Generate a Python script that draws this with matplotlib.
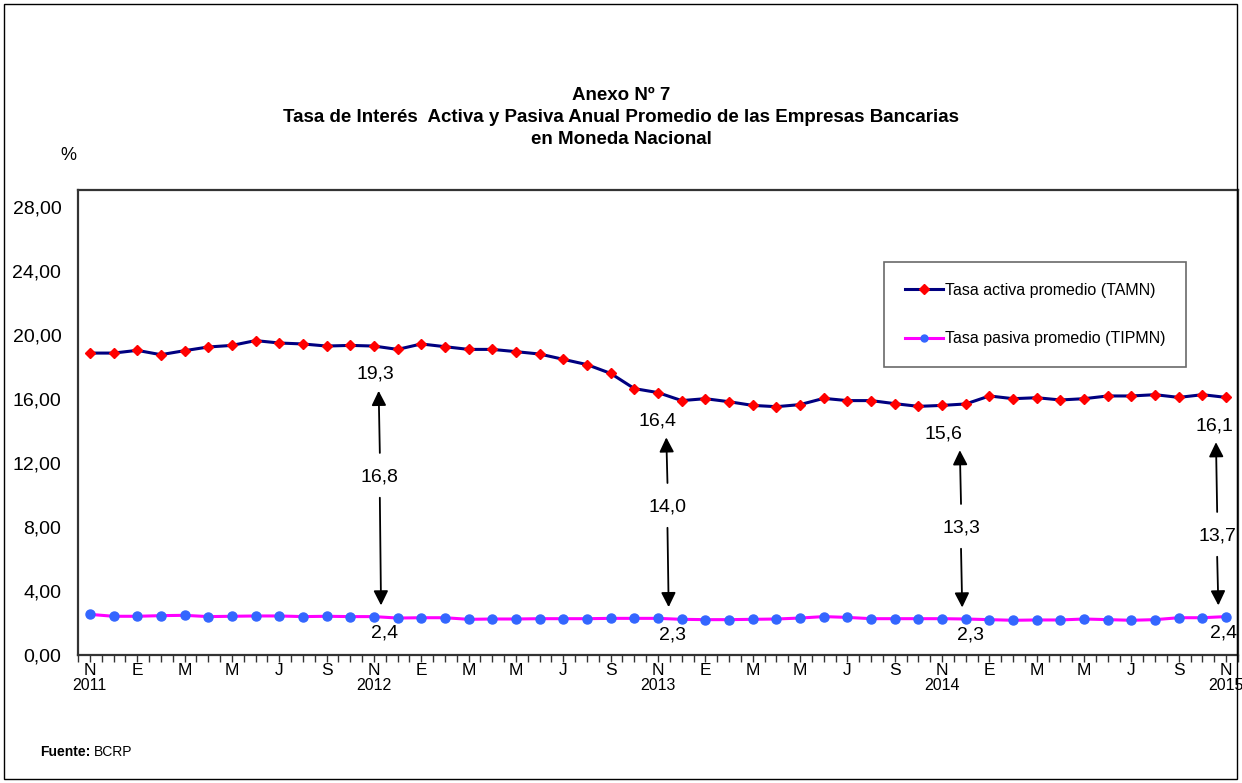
import matplotlib
matplotlib.use("Agg")
import matplotlib.pyplot as plt
from matplotlib.patches import Rectangle
from matplotlib import font_manager

# ---------------- data ----------------
month_letters = ["N", "E", "M", "M", "J", "S"]
year_labels = ["2011", "2012", "2013", "2014", "2015"]

tamn = [18.87, 18.87, 19.04, 18.77, 19.02, 19.25, 19.35, 19.65, 19.50, 19.44,
        19.31, 19.35, 19.31, 19.10, 19.44, 19.27, 19.10, 19.10, 18.96, 18.81,
        18.48, 18.15, 17.60, 16.65, 16.40, 15.90, 16.02, 15.83, 15.60, 15.52,
        15.65, 16.04, 15.90, 15.90, 15.71, 15.54, 15.60, 15.69, 16.19, 16.02,
        16.08, 15.94, 16.02, 16.19, 16.19, 16.27, 16.10, 16.27, 16.10]

tipmn = [2.54, 2.42, 2.42, 2.46, 2.48, 2.40, 2.42, 2.44, 2.44, 2.40,
         2.42, 2.40, 2.40, 2.31, 2.33, 2.33, 2.23, 2.25, 2.25, 2.27,
         2.27, 2.27, 2.29, 2.29, 2.29, 2.23, 2.21, 2.21, 2.23, 2.25,
         2.31, 2.40, 2.35, 2.27, 2.27, 2.27, 2.27, 2.25, 2.21, 2.17,
         2.19, 2.19, 2.25, 2.21, 2.17, 2.21, 2.33, 2.33, 2.40]

# highlighted months (November of each year) and their labels
hl_index = [12, 24, 36, 48]
hl_top = ["19,3", "16,4", "15,6", "16,1"]
hl_spread = ["16,8", "14,0", "13,3", "13,7"]
hl_bottom = ["2,4", "2,3", "2,3", "2,4"]

# ---------------- fonts ----------------
names = {f.name for f in font_manager.fontManager.ttflist}
FAM = ["Liberation Sans Narrow", "Liberation Sans", "DejaVu Sans"]
FAM = [f for f in FAM if f in names] or ["DejaVu Sans"]
plt.rcParams["font.family"] = FAM

W, H = 1242, 783
fig = plt.figure(figsize=(W / 100, H / 100), dpi=100)

def fx(px):
    return px / W

def fy(py):
    return 1 - py / H

# outer border
fig.patches.append(Rectangle((fx(4), fy(779)), fx(1237) - fx(4), fy(4) - fy(779),
                             transform=fig.transFigure, fill=False,
                             edgecolor="black", lw=1.0))

ax_left, ax_right, ax_top, ax_bottom = 78, 1238, 190, 655
ax = fig.add_axes([fx(ax_left), fy(ax_bottom), fx(ax_right) - fx(ax_left),
                   fy(ax_top) - fy(ax_bottom)])

n = len(tamn)
x = list(range(n))

ax.plot(x, tamn, color="#000080", lw=2.2, marker="D", markersize=5.5,
        markerfacecolor="#FF0000", markeredgecolor="#FF0000",
        label="Tasa activa promedio (TAMN)", zorder=3)
ax.plot(x, tipmn, color="#FF00FF", lw=2.2, marker="o", markersize=6.5,
        markerfacecolor="#3366FF", markeredgecolor="#3366FF",
        label="Tasa pasiva promedio (TIPMN)", zorder=3)

ax.set_xlim(-0.5, n - 0.5)
ax.set_ylim(0, (ax_bottom - ax_top) / 16.0)

yt = list(range(0, 29, 4))
ax.set_yticks(yt)
ax.set_yticklabels([f"{v:.2f}".replace(".", ",") for v in yt], fontsize=14)
ax.tick_params(axis="y", length=0, pad=12)

# x ticks
major = list(range(0, n, 2))
ax.set_xticks(major)
ax.set_xticklabels([month_letters[(i // 2) % 6] for i in major], fontsize=12.5)
ax.set_xticks([i - 0.5 for i in range(n + 1)] + [i for i in range(n)], minor=True)
ax.tick_params(axis="x", which="both", length=5, width=1, direction="out",
               pad=1, color="#333333")

for k, yl in enumerate(year_labels):
    ax.text(k * 12, -0.05, yl, transform=ax.get_xaxis_transform(),
            ha="center", va="top", fontsize=11.5)

for s in ax.spines.values():
    s.set_color("#333333")
    s.set_linewidth(1.6)

# annotations
spread_y = [11.13, 9.25, 7.94, 7.44]
arrow_dx = [0.25, 0.4, 0.8, -0.38]
top_dx = [0.05, 0.0, 0.05, -0.5]
bot_dx = [0.45, 0.6, 1.2, -0.1]
for k, i in enumerate(hl_index):
    ya, yp = tamn[i], tipmn[i]
    xa = i + arrow_dx[k]
    ax.text(i + top_dx[k], ya - 1.77, hl_top[k], ha="center", va="center",
            fontsize=14)
    ax.text(xa, spread_y[k], hl_spread[k], ha="center", va="center",
            fontsize=14)
    ax.text(i + bot_dx[k], yp - 1.05, hl_bottom[k], ha="center", va="center",
            fontsize=14)
    ax.annotate("", xy=(xa - 0.05, ya - 2.8), xytext=(xa, spread_y[k] + 1.5),
                arrowprops=dict(arrowstyle="-|>", color="black", lw=1.3,
                                mutation_scale=22, shrinkA=0, shrinkB=0))
    ax.annotate("", xy=(xa + 0.05, yp + 0.7), xytext=(xa, spread_y[k] - 1.3),
                arrowprops=dict(arrowstyle="-|>", color="black", lw=1.3,
                                mutation_scale=22, shrinkA=0, shrinkB=0))

leg = ax.legend(loc="upper left", bbox_to_anchor=((884 - ax_left) / (ax_right - ax_left),
                                                  1 - (262 - ax_top) / (ax_bottom - ax_top)),
                fontsize=11.5, frameon=True, fancybox=False, handlelength=2.4,
                handletextpad=0.1, labelspacing=2.1, borderpad=1.3,
                borderaxespad=0)
leg.get_frame().set_edgecolor("#444444")
leg.get_frame().set_linewidth(1.2)
for h in leg.legend_handles:
    h.set_markersize(5)

# titles
fig.text(0.5, fy(96), "Anexo Nº 7", ha="center", va="center",
         fontsize=13.5, fontweight="bold")
fig.text(0.5, fy(117), "Tasa de Interés  Activa y Pasiva Anual Promedio de las Empresas Bancarias",
         ha="center", va="center", fontsize=13.5, fontweight="bold")
fig.text(0.5, fy(139), "en Moneda Nacional", ha="center", va="center",
         fontsize=13.5, fontweight="bold")

fig.text(fx(68), fy(155), "%", ha="center", va="center", fontsize=13)

t1 = fig.text(fx(40), fy(752), "Fuente:", ha="left", va="center",
              fontsize=10, fontweight="bold")
fig.canvas.draw()
bb = t1.get_window_extent()
fig.text(bb.x1 / W + 0.003, fy(752), "BCRP", ha="left", va="center", fontsize=10)

fig.savefig("out.png", dpi=100)
